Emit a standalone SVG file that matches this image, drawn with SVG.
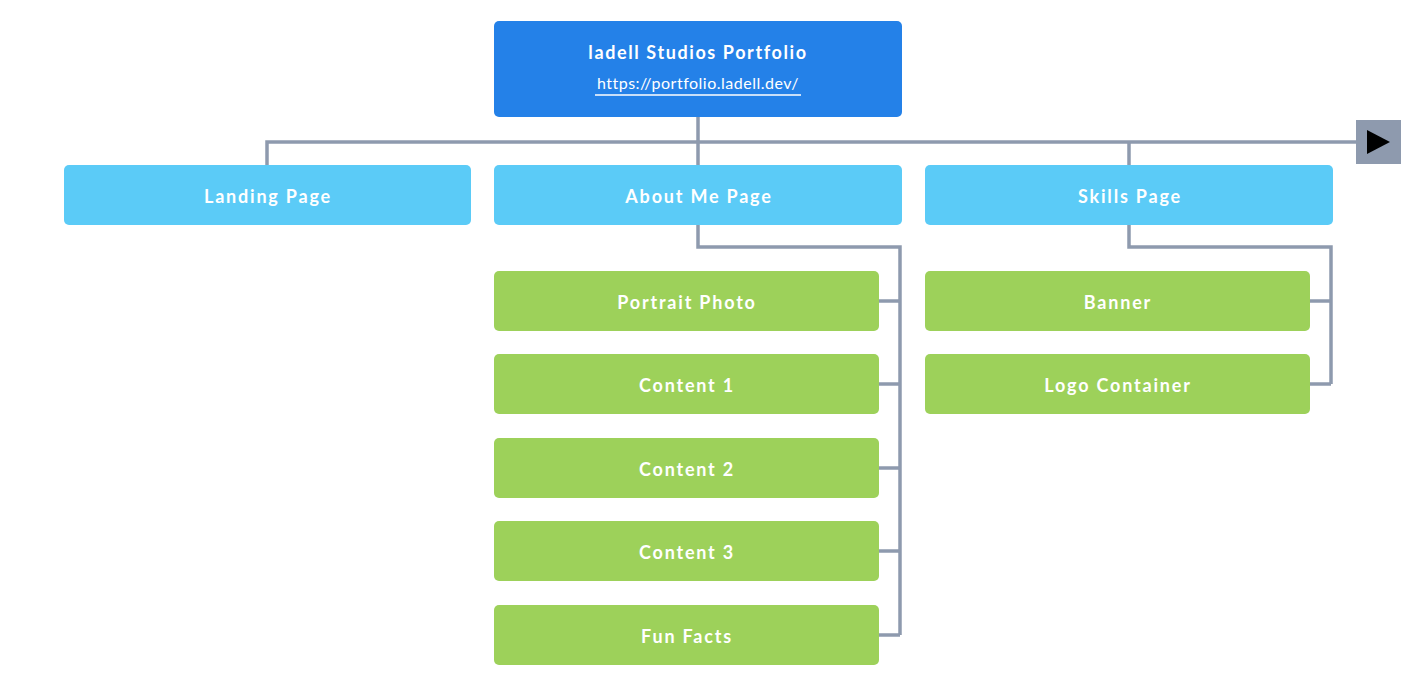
<svg xmlns="http://www.w3.org/2000/svg" width="1411" height="680" viewBox="0 0 1411 680">
<style>
.t{font-family:Lato,"Open Sans",sans-serif;font-weight:bold;font-size:18px;fill:#fff;text-anchor:middle;dominant-baseline:central;letter-spacing:1.8px}
.u{font-family:Lato,"Open Sans",sans-serif;font-size:16px;fill:#fff;text-anchor:middle;letter-spacing:0.5px}
.c{fill:none;stroke:#8E9AAE;stroke-width:3.5}
.root{fill:#2481E8}
.l1{fill:#5BCBF7}
.l2{fill:#9DD15A}
</style>
<rect width="1411" height="680" fill="#fff"/>
<g id="connectors">
<path class="c" d="M698,117V142M267,165V142H1357M698,142V165M1129,142V165"/>
<path class="c" d="M698,225V247H900V635M879,301H900M879,384H900M879,468H900M879,551H900M879,635H900"/>
<path class="c" d="M1129,225V247H1331V384M1310,301H1331M1310,384H1331"/>
</g>
<g id="more">
<rect x="1356" y="120" width="45" height="44" fill="#8E9AAE"/>
<polygon points="1367,130 1367,154 1390,142" fill="#000"/>
</g>
<g id="root">
<rect class="root" x="494" y="21" width="408" height="96" rx="5"/>
<text class="t" x="698" y="52" style="letter-spacing:1.6px">ladell Studios Portfolio</text>
<text class="u" x="698" y="89">https://portfolio.ladell.dev/</text>
<line x1="595" y1="95" x2="801" y2="95" stroke="#fff" stroke-width="1.5"/>
</g>
<g id="landing"><rect class="l1" x="64" y="165" width="407" height="60" rx="5"/><text class="t" x="268" y="196">Landing Page</text></g>
<g id="about"><rect class="l1" x="494" y="165" width="408" height="60" rx="5"/><text class="t" x="699" y="196">About Me Page</text></g>
<g id="skills"><rect class="l1" x="925" y="165" width="408" height="60" rx="5"/><text class="t" x="1130" y="196">Skills Page</text></g>
<g id="portrait"><rect class="l2" x="494" y="271" width="385" height="60" rx="5"/><text class="t" x="687" y="302">Portrait Photo</text></g>
<g id="content1"><rect class="l2" x="494" y="354" width="385" height="60" rx="5"/><text class="t" x="687" y="385">Content 1</text></g>
<g id="content2"><rect class="l2" x="494" y="438" width="385" height="60" rx="5"/><text class="t" x="687" y="469">Content 2</text></g>
<g id="content3"><rect class="l2" x="494" y="521" width="385" height="60" rx="5"/><text class="t" x="687" y="552">Content 3</text></g>
<g id="funfacts"><rect class="l2" x="494" y="605" width="385" height="60" rx="5"/><text class="t" x="687" y="636">Fun Facts</text></g>
<g id="banner"><rect class="l2" x="925" y="271" width="385" height="60" rx="5"/><text class="t" x="1118" y="302">Banner</text></g>
<g id="logo"><rect class="l2" x="925" y="354" width="385" height="60" rx="5"/><text class="t" x="1118" y="385">Logo Container</text></g>
</svg>
